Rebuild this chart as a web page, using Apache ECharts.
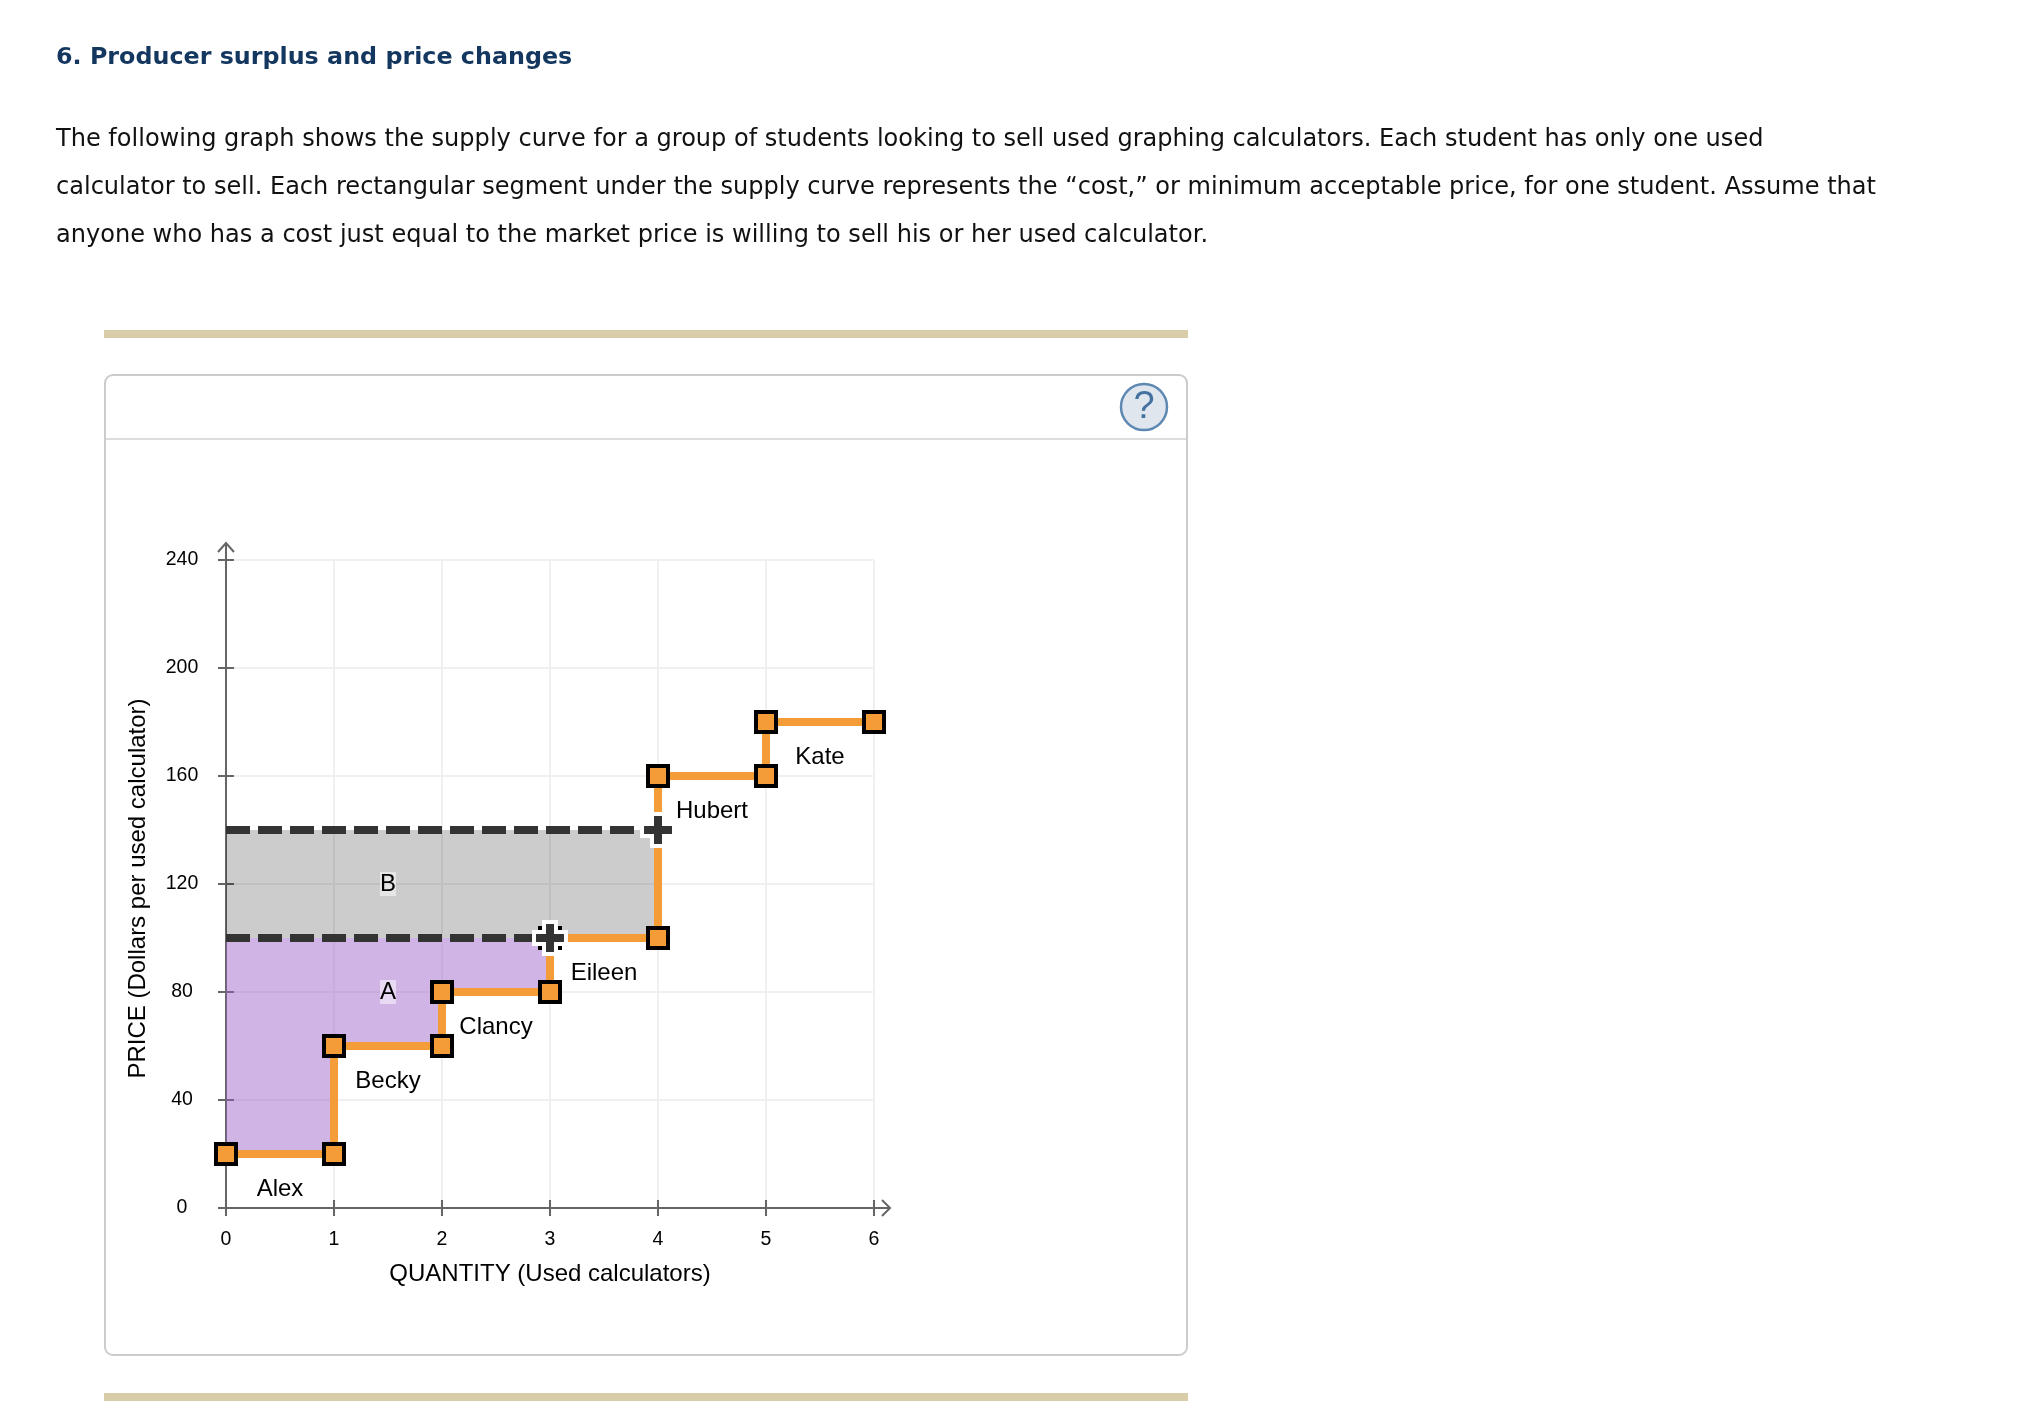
<!DOCTYPE html>
<html lang="en">
<head>
    <meta charset="UTF-8">
    <title>Producer surplus and price changes</title>
    <script src="https://cdn.jsdelivr.net/npm/echarts@6/dist/echarts.min.js"></script>
    <style>
        html, body { margin: 0; padding: 0; background: #fff; }
    </style>
</head>
<body>
<div id="main" style="width:2034px;height:1422px;"></div>
<script>
    // page text
    var heading = '6. Producer surplus and price changes';
    var paragraphLines = [
        'The following graph shows the supply curve for a group of students looking to sell used graphing calculators. Each student has only one used',
        'calculator to sell. Each rectangular segment under the supply curve represents the \u201ccost,\u201d or minimum acceptable price, for one student. Assume that',
        'anyone who has a cost just equal to the market price is willing to sell his or her used calculator.'
    ];

    // axes
    var xTicks = [0, 1, 2, 3, 4, 5, 6];
    var yTicks = [0, 40, 80, 120, 160, 200, 240];
    var xTitle = 'QUANTITY (Used calculators)';
    var yTitle = 'PRICE (Dollars per used calculator)';

    // supply curve
    var supplyQty = [0, 1, 1, 2, 2, 3, 3, 4, 4, 5, 5, 6];
    var supplyPrice = [20, 20, 60, 60, 80, 80, 100, 100, 160, 160, 180, 180];

    // student names under each step
    var studentNames = ['Alex', 'Becky', 'Clancy', 'Eileen', 'Hubert', 'Kate'];
    var studentQty = [0.5, 1.5, 2.5, 3.5, 4.5, 5.5];
    var studentPrice = [7, 47, 67, 87, 147, 167];

    // shaded areas
    var areaAQty = [0, 1, 1, 2, 2, 3, 3, 0];
    var areaAPrice = [20, 20, 60, 60, 80, 80, 100, 100];
    var areaBQty = [0, 4, 4, 0];
    var areaBPrice = [100, 100, 140, 140];
    var areaNames = ['A', 'B'];
    var areaLabelQty = [1.5, 1.5];
    var areaLabelPrice = [80, 120];

    // market price lines and their handles
    var oldPrice = 100;
    var newPrice = 140;
    var oldPriceQty = 3;
    var newPriceQty = 4;

    var ORANGE = '#f39c38';
    var DARK = '#333333';
    var AXIS = '#666666';

    function zip(a, b) {
        var out = [];
        for (var i = 0; i < a.length; i++) {
            out.push([a[i], b[i]]);
        }
        return out;
    }

    // filled polygon through the axis scales
    function polygonSeries(qty, price, color) {
        return {
            type: 'custom',
            z: 1,
            silent: true,
            data: zip(qty, price),
            renderItem: function (params, api) {
                if (params.dataIndex !== 0) {
                    return null;
                }
                var pts = [];
                for (var i = 0; i < qty.length; i++) {
                    pts.push(api.coord([qty[i], price[i]]));
                }
                return { type: 'polygon', shape: { points: pts }, style: { fill: color } };
            }
        };
    }

    function dashedSeries(qty, price) {
        return {
            type: 'line',
            z: 4,
            silent: true,
            showSymbol: false,
            symbol: 'none',
            data: [[0, price], [qty, price]],
            lineStyle: { color: DARK, width: 8, type: [24, 8], cap: 'butt' }
        };
    }

    // dark cross with a white halo, halo leaves the corners of a square under it visible
    function renderHandle(params, api) {
        var p = api.coord([api.value(0), api.value(1)]);
        function bar(w, h, fill) {
            return { type: 'rect', shape: { x: p[0] - w / 2, y: p[1] - h / 2, width: w, height: h }, style: { fill: fill } };
        }
        return {
            type: 'group',
            children: [
                bar(36, 16, '#fff'), bar(16, 36, '#fff'),
                bar(28, 8, DARK), bar(8, 28, DARK)
            ]
        };
    }

    // axis arrows sit past the axis extent, so they are drawn from the end points
    function renderArrow(params, api) {
        var p = api.coord([api.value(0), api.value(1)]);
        var style = { stroke: AXIS, lineWidth: 2, fill: null };
        if (params.dataIndex === 0) {
            return {
                type: 'group',
                children: [
                    { type: 'line', shape: { x1: p[0], y1: p[1], x2: p[0], y2: p[1] - 17 }, style: style },
                    { type: 'polyline', shape: { points: [[p[0] - 8, p[1] - 8], [p[0], p[1] - 17], [p[0] + 8, p[1] - 8]] }, style: style }
                ]
            };
        }
        return {
            type: 'group',
            children: [
                { type: 'line', shape: { x1: p[0], y1: p[1], x2: p[0] + 16, y2: p[1] }, style: style },
                { type: 'polyline', shape: { points: [[p[0] + 8, p[1] - 8], [p[0] + 16, p[1]], [p[0] + 8, p[1] + 8]] }, style: style }
            ]
        };
    }

    function nameData(names, qty, price) {
        var out = [];
        for (var i = 0; i < names.length; i++) {
            out.push({ name: names[i], value: [qty[i], price[i]] });
        }
        return out;
    }

    // panel around the graph and the text above it
    var graphics = [
        { type: 'rect', shape: { x: 104, y: 330, width: 1084, height: 8 }, style: { fill: '#d8cda8' } },
        { type: 'rect', shape: { x: 104, y: 1393, width: 1084, height: 8 }, style: { fill: '#d8cda8' } },
        { type: 'rect', shape: { x: 105, y: 375, width: 1082, height: 980, r: 8 }, style: { fill: null, stroke: '#cccccc', lineWidth: 2 } },
        { type: 'line', shape: { x1: 106, y1: 439, x2: 1186, y2: 439 }, style: { stroke: '#dddddd', lineWidth: 2 } },
        { type: 'circle', shape: { cx: 1144, cy: 407, r: 23 }, style: { fill: '#dfe6ee', stroke: '#5f88b2', lineWidth: 2.5 } },
        { type: 'text', x: 1144, y: 408, style: { text: '?', fill: '#44719f', font: '38px "Liberation Sans"', textAlign: 'center', textVerticalAlign: 'middle' } },
        { type: 'text', x: 56, y: 58, style: { text: heading, fill: '#14375f', font: 'bold 23.8px "DejaVu Sans"', textVerticalAlign: 'middle' } }
    ];
    for (var i = 0; i < paragraphLines.length; i++) {
        graphics.push({
            type: 'text',
            x: 56,
            y: 140 + i * 48,
            style: { text: paragraphLines[i], fill: '#111111', font: '24.05px "DejaVu Sans"', textVerticalAlign: 'middle' }
        });
    }

    var myChart = echarts.init(document.getElementById('main'));
    var option = {
        animation: false,
        backgroundColor: '#ffffff',
        textStyle: { fontFamily: '"Liberation Sans"' },
        graphic: graphics,
        grid: { left: 226, top: 560, width: 648, height: 648 },
        xAxis: [
            {
                type: 'value',
                min: xTicks[0],
                max: xTicks[xTicks.length - 1],
                interval: 1,
                name: xTitle,
                nameLocation: 'middle',
                nameGap: 66,
                nameTextStyle: { fontSize: 24, color: '#000', verticalAlign: 'middle' },
                axisLine: { onZero: false, lineStyle: { color: AXIS, width: 2 } },
                axisTick: { length: 8, lineStyle: { color: AXIS, width: 2 } },
                axisLabel: { fontSize: 19.5, color: '#000', margin: 32, verticalAlign: 'middle', showMinLabel: true, showMaxLabel: true },
                splitLine: { show: true, lineStyle: { color: '#f0f0f0', width: 2 } }
            },
            {
                // inner half of the ticks
                type: 'value',
                position: 'bottom',
                min: xTicks[0],
                max: xTicks[xTicks.length - 1],
                interval: 1,
                axisLine: { show: false },
                axisTick: { show: true, inside: true, length: 8, lineStyle: { color: AXIS, width: 2 } },
                axisLabel: { show: false },
                splitLine: { show: false }
            }
        ],
        yAxis: [
            {
                type: 'value',
                min: yTicks[0],
                max: yTicks[yTicks.length - 1],
                interval: 40,
                name: yTitle,
                nameLocation: 'middle',
                nameGap: 88,
                nameTextStyle: { fontSize: 24, color: '#000', verticalAlign: 'middle', padding: [0, 9, 0, 0] },
                axisLine: { onZero: false, lineStyle: { color: AXIS, width: 2 } },
                axisTick: { length: 8, lineStyle: { color: AXIS, width: 2 } },
                axisLabel: { fontSize: 19.5, color: '#000', margin: 44, align: 'center', padding: [2, 0, 0, 0], showMinLabel: true, showMaxLabel: true },
                splitLine: { show: true, lineStyle: { color: '#f0f0f0', width: 2 } }
            },
            {
                type: 'value',
                position: 'left',
                min: yTicks[0],
                max: yTicks[yTicks.length - 1],
                interval: 40,
                axisLine: { show: false },
                axisTick: { show: true, inside: true, length: 8, lineStyle: { color: AXIS, width: 2 } },
                axisLabel: { show: false },
                splitLine: { show: false }
            }
        ],
        series: [
            polygonSeries(areaBQty, areaBPrice, 'rgba(0,0,0,0.2)'),
            polygonSeries(areaAQty, areaAPrice, 'rgba(152,92,200,0.46)'),
            {
                type: 'custom',
                z: 2,
                silent: true,
                data: [[0, 240], [6, 0]],
                renderItem: renderArrow
            },
            {
                name: 'Supply',
                type: 'line',
                z: 3,
                clip: false,
                silent: true,
                data: zip(supplyQty, supplyPrice),
                symbol: 'rect',
                symbolSize: 20,
                showAllSymbol: true,
                lineStyle: { color: ORANGE, width: 8, cap: 'butt', join: 'miter' },
                itemStyle: { color: ORANGE, borderColor: '#000', borderWidth: 4 }
            },
            dashedSeries(newPriceQty, newPrice),
            dashedSeries(oldPriceQty, oldPrice),
            {
                type: 'custom',
                z: 5,
                silent: true,
                data: [[newPriceQty, newPrice], [oldPriceQty, oldPrice]],
                renderItem: renderHandle
            },
            {
                type: 'scatter',
                z: 6,
                silent: true,
                symbolSize: 0,
                data: nameData(studentNames, studentQty, studentPrice),
                label: { show: true, position: 'inside', formatter: '{b}', fontSize: 24, color: '#000', opacity: 1, textBorderWidth: 0 }
            },
            {
                type: 'scatter',
                z: 6,
                silent: true,
                symbolSize: 0,
                data: nameData(areaNames, areaLabelQty, areaLabelPrice),
                label: {
                    show: true,
                    position: 'inside',
                    formatter: '{b}',
                    fontSize: 24,
                    color: '#000',
                    opacity: 1,
                    textBorderWidth: 0,
                    backgroundColor: 'rgba(255,255,255,0.5)',
                    padding: [0, 0]
                }
            }
        ]
    };
    myChart.setOption(option);
</script>
</body>
</html>
